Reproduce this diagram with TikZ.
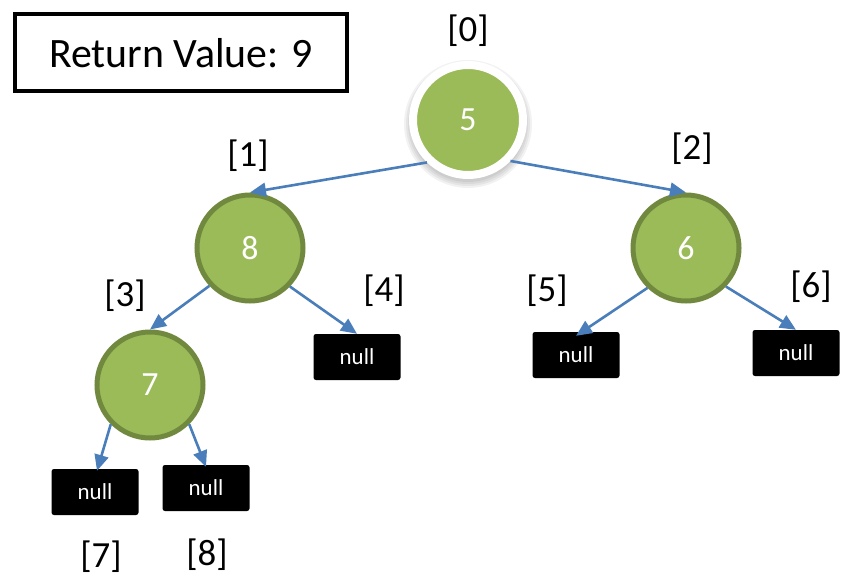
\documentclass[tikz,border=0pt]{standalone}
\usepackage{fontspec}
\setmainfont{Carlito}
\usetikzlibrary{arrows.meta}
\definecolor{nodegreen}{HTML}{9BBB59}
\definecolor{nodeborder}{HTML}{71893F}
\definecolor{arrowblue}{HTML}{4A7EBB}
\begin{document}
\begin{tikzpicture}[x=1bp,y=-1bp,
  treenode/.style={circle,fill=nodegreen,draw=nodeborder,line width=5bp,minimum size=106bp,inner sep=0pt,text=white,font=\fontsize{34}{38}\selectfont},
  rootnode/.style={circle,fill=nodegreen,draw=white,line width=8bp,minimum size=110bp,inner sep=0pt,text=white,font=\fontsize{34}{38}\selectfont},
  nullbox/.style={rectangle,rounded corners=2.5bp,fill=black,minimum width=87bp,minimum height=46bp,inner sep=0pt,text=white,font=\fontsize{23}{26}\selectfont},
  idx/.style={font=\fontsize{37}{40}\selectfont,inner sep=0pt},
  link/.style={draw=arrowblue,line width=2.6bp,-{Triangle[length=16bp,width=14bp]}},
  softshadow/.style={fill=black,opacity=0.05}
]
\useasboundingbox (0,0) rectangle (841,576);
\fill[white] (0,0) rectangle (841,576);

\node[draw=black,line width=4bp,minimum width=331bp,minimum height=77bp,inner sep=0pt,font=\fontsize{42}{45}\selectfont] (ret) at (181,53) {Return Value: 9};

% soft shadow of the root node
\foreach \r in {64,62,60,58}{\fill[softshadow] (468,124) circle (\r bp);}
\node[rootnode] (n0) at (468,120) {5};
\node[treenode] (n1) at (250,248) {8};
\node[treenode] (n2) at (686,248) {6};
\node[treenode] (n3) at (150,385) {7};
\node[nullbox] (n4) at (357,357) {null};
\node[nullbox] (n5) at (576,355) {null};
\node[nullbox] (n6) at (796,353) {null};
\node[nullbox] (n7) at (95,492) {null};
\node[nullbox] (n8) at (206,488) {null};

\node[idx] (l0) at (468,31) {[0]};
\node[idx] (l1) at (248,156) {[1]};
\node[idx] (l2) at (692,149) {[2]};
\node[idx] (l3) at (125,296) {[3]};
\node[idx] (l4) at (384,291) {[4]};
\node[idx] (l5) at (547,291) {[5]};
\node[idx] (l6) at (811,287) {[6]};
\node[idx] (l7) at (101,557) {[7]};
\node[idx] (l8) at (207,555) {[8]};

\draw[link] (n0.226) -- (n1.north);
\draw[link] (n0.316) -- (n2.north);
\draw[link] (n1.223) -- (n3.north);
\draw[link] (n1.316) -- (n4.north);
\draw[link] (n2.226) -- ([yshift=-4bp]n5.north);
\draw[link] (n2.316) -- (n6.north);
\draw[link] (n3.225) -- ([xshift=2bp,yshift=-2bp]n7.north);
\draw[link] (n3.315) -- ([yshift=-2bp]n8.north);
\end{tikzpicture}
\end{document}
